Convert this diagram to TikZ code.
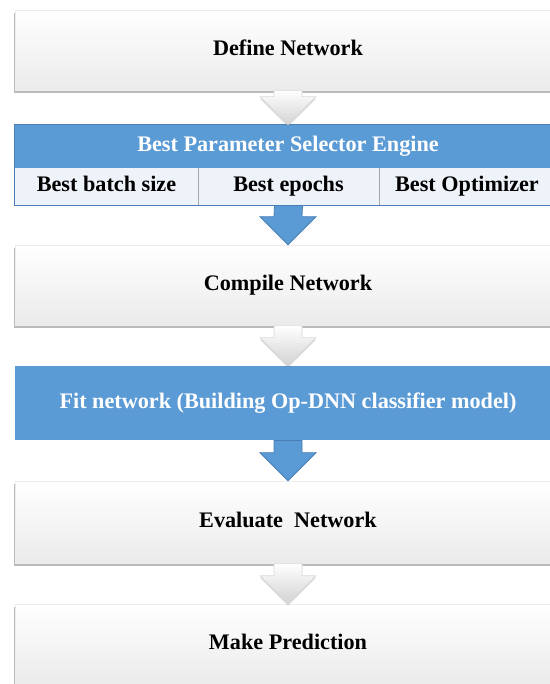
\documentclass[tikz,border=0pt]{standalone}
\usepackage{fontspec}
\setmainfont{Liberation Serif}
\usepackage{xcolor}
\usepackage{tikz}
\usetikzlibrary{calc}
\usetikzlibrary{shadows}
\definecolor{engblue}{HTML}{5B9BD5}
\definecolor{engedge}{HTML}{4A7FB5}
\definecolor{rowfill}{HTML}{EEF3FA}
\definecolor{sepgray}{HTML}{A6A6A6}
\tikzset{
	whitebox/.style={rectangle,minimum width=273pt,minimum height=40pt,inner sep=0pt,
		top color=white,middle color=white,bottom color=gray!16,draw=gray!15,line width=0.3pt,
		drop shadow={shadow xshift=-0.6pt,shadow yshift=-1.6pt,opacity=0.45,fill=gray!80!black}},
	bluebox/.style={rectangle,minimum width=273pt,inner sep=0pt,fill=engblue,text=white},
	cellbox/.style={rectangle,minimum height=18.5pt,inner sep=0pt,fill=rowfill},
	greyarrow/.style={top color=white,bottom color=gray!35,draw=gray!30,line width=0.3pt,
		drop shadow={shadow xshift=0pt,shadow yshift=-1pt,opacity=0.3,fill=gray}},
	bluearrow/.style={fill=engblue,draw=engedge,line width=0.4pt},
	lbl/.style={font=\fontsize{11.1}{13}\selectfont\bfseries,text height=7.6pt,text depth=2.4pt}
}
% block arrow from the south of #2 to the north of #3
\newcommand{\flowarrow}[3]{%
	\path[#1] ($(#2.south)+(-14,0)$) -- ($(#3.north)+(-14,-28)$) -- ($(#3.north)+(-28,-28)$)
		-- (#3.north) -- ($(#3.north)+(28,-28)$) -- ($(#3.north)+(14,-28)$)
		-- ($(#2.south)+(14,0)$) -- cycle;}

\begin{document}
\begin{tikzpicture}[x=0.5pt,y=-0.5pt]
	\useasboundingbox (0,0) rectangle (550,684);
	\begin{scope}
	\clip (0,0) rectangle (550,684);
	\node[whitebox,lbl] (define) at (288,50) {Define Network};
	% engine table
	\node[bluebox,lbl,minimum height=21.5pt] (engine) at (288,146.5) {Best Parameter Selector Engine};
	\node[cellbox,lbl,minimum width=91.5pt] (batch) at (106.5,186.5) {Best batch size};
	\node[cellbox,lbl,minimum width=90.5pt] (epochs) at (288.5,186.5) {Best epochs};
	\node[cellbox,lbl,minimum width=88pt] (optim) at (467,186.5) {Best Optimizer};
	\draw[sepgray,line width=0.4pt] (batch.north east) -- (batch.south east);
	\draw[sepgray,line width=0.4pt] (epochs.north east) -- (epochs.south east);
	\draw[engedge,line width=0.5pt] (engine.north west) rectangle (optim.south east);
	\node[whitebox,lbl] (compile) at (288,285) {Compile Network};
	\node[bluebox,lbl,minimum height=37pt] (fit) at (288,403) {Fit network (Building Op-DNN classifier model)};
	\node[whitebox,lbl,minimum height=41pt] (evaluate) at (288,522) {Evaluate~ Network};
	\node[whitebox,lbl] (predict) at (288,644) {Make Prediction};
	% arrows
	\flowarrow{greyarrow}{define}{engine}
	\flowarrow{bluearrow}{epochs}{compile}
	\flowarrow{greyarrow}{compile}{fit}
	\flowarrow{bluearrow}{fit}{evaluate}
	\flowarrow{greyarrow}{evaluate}{predict}
	\end{scope}
\end{tikzpicture}
\end{document}
